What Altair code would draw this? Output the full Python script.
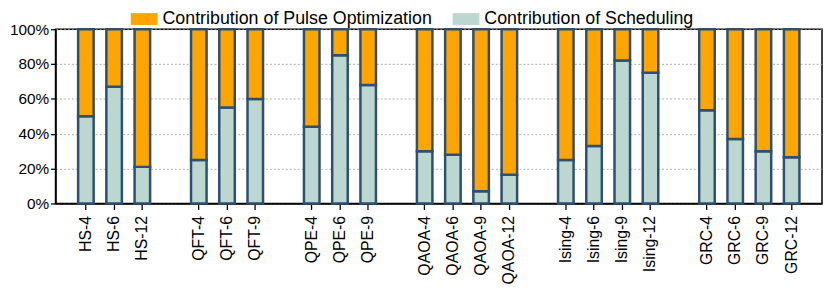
import altair as alt
import pandas as pd

# ---- data ----
groups = ["HS", "QFT", "QPE", "QAOA", "Ising", "GRC"]
labels_by_group = [
    ["HS-4", "HS-6", "HS-12"],
    ["QFT-4", "QFT-6", "QFT-9"],
    ["QPE-4", "QPE-6", "QPE-9"],
    ["QAOA-4", "QAOA-6", "QAOA-9", "QAOA-12"],
    ["Ising-4", "Ising-6", "Ising-9", "Ising-12"],
    ["GRC-4", "GRC-6", "GRC-9", "GRC-12"],
]
# fraction contributed by scheduling (remaining part: pulse optimization)
sched_by_group = [
    [0.50, 0.67, 0.21],
    [0.25, 0.55, 0.60],
    [0.44, 0.85, 0.68],
    [0.30, 0.28, 0.07, 0.165],
    [0.25, 0.33, 0.82, 0.75],
    [0.535, 0.37, 0.30, 0.265],
]
series_names = ["Contribution of Pulse Optimization", "Contribution of Scheduling"]
series_colors = ["#FFA500", "#BCD6D0"]
y_ticks = [0, 0.2, 0.4, 0.6, 0.8, 1.0]

# ---- build long table ----
rows = []
domain = []
all_labels = []
for gi, (labs, vals) in enumerate(zip(labels_by_group, sched_by_group)):
    if gi > 0:
        domain.append(" " * gi)  # blank spacer slot between groups
    for lab, v in zip(labs, vals):
        domain.append(lab)
        all_labels.append(lab)
        rows.append({"label": lab, "series": series_names[1], "value": v})
        rows.append({"label": lab, "series": series_names[0], "value": 1 - v})
df = pd.DataFrame(rows)

legend_symbol = "M-1,-0.444H1V0.444H-1Z"

chart = (
    alt.Chart(df)
    .transform_calculate(
        ord="datum.series === 'Contribution of Scheduling' ? 0 : 1"
    )
    .mark_bar(stroke="#2D4F70", strokeWidth=2.5)
    .encode(
        x=alt.X(
            "label:N",
            sort=domain,
            scale=alt.Scale(domain=domain, paddingInner=0.45, paddingOuter=0.8),
            axis=alt.Axis(
                values=all_labels,
                title=None,
                labelAngle=270,
                labelFontSize=16,
                labelColor="black",
                labelPadding=6,
                tickSize=6,
                tickColor="black",
                tickWidth=1.3,
                domainColor="black",
                domainWidth=1.5,
                grid=False,
            ),
        ),
        y=alt.Y(
            "value:Q",
            stack="zero",
            scale=alt.Scale(domain=[0, 1], nice=False),
            axis=alt.Axis(
                values=y_ticks,
                format=".0%",
                title=None,
                labelFontSize=15.5,
                labelColor="black",
                labelPadding=2,
                tickSize=5,
                tickColor="black",
                tickWidth=1.3,
                domainColor="black",
                domainWidth=1.5,
                grid=True,
                gridColor="#9a9a9a",
                gridDash=[2, 2],
                gridWidth=0.8,
            ),
        ),
        color=alt.Color(
            "series:N",
            scale=alt.Scale(domain=series_names, range=series_colors),
            legend=alt.Legend(
                title=None,
                orient="none",
                legendX=76,
                legendY=-24,
                direction="horizontal",
                symbolType=legend_symbol,
                symbolSize=729,
                symbolStrokeWidth=0,
                symbolOpacity=1,
                labelFontSize=18,
                labelColor="black",
                labelOffset=5,
                labelLimit=0,
                columnPadding=20,
                padding=0,
            ),
        ),
        order=alt.Order("ord:Q"),
    )
    .properties(
        width=774,
        height=176,
        autosize=alt.AutoSizeParams(type="none"),
        padding={"left": 48, "top": 20, "right": 1, "bottom": 86},
    )
    .configure(font="Liberation Sans")
    .configure_view(stroke="black", strokeWidth=1.5)
)

chart.save("out.html", embed_options={"renderer": "svg", "actions": False})
